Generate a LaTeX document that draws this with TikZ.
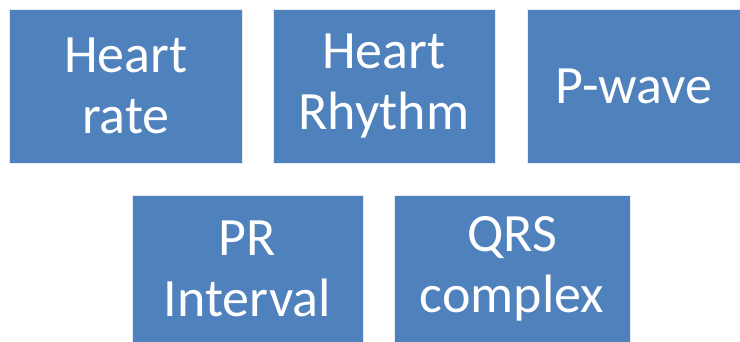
\documentclass[tikz,border=0pt]{standalone}
\usepackage{fontspec}
\setmainfont{Carlito}
\usepackage{tikz}
\usetikzlibrary{positioning}
\definecolor{boxblue}{HTML}{4F81BD}

\begin{document}
\begin{tikzpicture}[x=0.75pt, y=-0.75pt,
		box/.style={fill=boxblue, draw=white!85!boxblue, line width=0.4pt, text=white, align=center, inner sep=0pt,
			font=\fontsize{40.5}{45.75}\selectfont}]
			\useasboundingbox (0,0) rectangle (740,342);

			\node[box, minimum width=174.4pt, minimum height=115.1pt] (rate) at (125.75,86.25) {Heart\\rate};
			\node[box, minimum width=166.5pt, minimum height=115.1pt] (rhythm) at (384,86.25) {Heart\\Rhythm};
			\node[box, minimum width=160.5pt, minimum height=115.1pt] (pwave) at (634,86.25) {P-wave};

			\node[box, minimum width=173.3pt, minimum height=111pt] (pr) at (247.5,269) {PR\\Interval};
			\node[box, minimum width=177pt, minimum height=111pt] (qrs) at (512,269) {QRS\\complex};
        \end{tikzpicture}
\end{document}
